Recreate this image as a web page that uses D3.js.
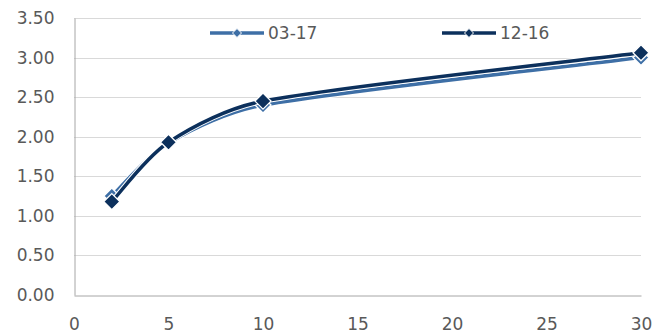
<!DOCTYPE html>
<html>
<head>
<meta charset="utf-8">
<script src="https://cdn.jsdelivr.net/npm/d3@7"></script>
<style>
	body { margin: 0; background: #fff; }
	text { font-family: "Century Gothic", "DejaVu Sans", sans-serif; fill: #595959; }
</style>
</head>
<body>
<script>
// chart values
var xValues = [2, 5, 10, 30];
var series03_17 = [1.25, 1.92, 2.40, 3.00];
var series12_16 = [1.18, 1.93, 2.45, 3.06];
var seriesNames = ['03-17', '12-16'];
var seriesColors = ['#3E6FA6', '#0C305C'];
var xTicks = [0, 5, 10, 15, 20, 25, 30];
var yTicks = [0, 0.5, 1, 1.5, 2, 2.5, 3, 3.5];

var width = 668,
	height = 333,
	margin = { top: 18, right: 27, bottom: 38, left: 74 };

var svg = d3.select('body').append('svg')
	.attr('width', width)
	.attr('height', height);

var x = d3.scaleLinear()
	.domain([0, 30])
	.range([margin.left, width - margin.right]);

var y = d3.scaleLinear()
	.domain([0, 3.5])
	.range([height - margin.bottom, margin.top]);

// gridlines
svg.append('g')
	.selectAll('line')
	.data(yTicks.slice(1))
	.enter().append('line')
	.attr('x1', x(0))
	.attr('x2', x(30))
	.attr('y1', function (d) { return Math.round(y(d)) + 0.5; })
	.attr('y2', function (d) { return Math.round(y(d)) + 0.5; })
	.attr('stroke', '#d9d9d9')
	.attr('stroke-width', 1);

// axes
var yAxis = svg.append('g')
	.attr('transform', 'translate(' + (x(0) + 0.5) + ',0)')
	.call(d3.axisLeft(y).tickValues(yTicks).tickSize(0).tickPadding(20).tickFormat(d3.format('.2f')));
yAxis.select('.domain').attr('stroke', '#a6a6a6');

var xAxis = svg.append('g')
	.attr('transform', 'translate(0,' + (Math.round(y(0)) + 0.5) + ')')
	.call(d3.axisBottom(x).tickValues(xTicks).tickSize(0).tickPadding(22));
xAxis.select('.domain').attr('stroke', '#a6a6a6');

svg.selectAll('.tick text')
	.style('font-size', '17px')
	.attr('fill', '#595959');

// spreadsheet-style smoothing: bezier arms of 1/6 the neighbour chord,
// kept short on segments next to a much longer one
function smoothPath(pts) {
	var p = pts.map(function (d) { return [x(d[0]), y(d[1])]; });
	var path = d3.path();
	var dist = function (a, b) { return Math.hypot(b[0] - a[0], b[1] - a[1]); };
	path.moveTo(p[0][0], p[0][1]);
	for (var i = 0; i < p.length - 1; i++) {
		var p0 = p[Math.max(i - 1, 0)], p1 = p[i], p2 = p[i + 1], p3 = p[Math.min(i + 2, p.length - 1)];
		var maxArm = dist(p1, p2) / 3;
		var f1 = 1 / 6, f2 = 1 / 6;
		var d02 = dist(p0, p2), d13 = dist(p1, p3);
		if (d02 * f1 > maxArm) f1 = maxArm / d02;
		if (d13 * f2 > maxArm) f2 = maxArm / d13;
		path.bezierCurveTo(
			p1[0] + (p2[0] - p0[0]) * f1, p1[1] + (p2[1] - p0[1]) * f1,
			p2[0] - (p3[0] - p1[0]) * f2, p2[1] - (p3[1] - p1[1]) * f2,
			p2[0], p2[1]);
	}
	return path.toString();
}

var allSeries = [series03_17, series12_16].map(function (vals, i) {
	return {
		name: seriesNames[i],
		color: seriesColors[i],
		points: xValues.map(function (xv, j) { return [xv, vals[j]]; })
	};
});

var diamond = function (cx, cy, r) {
	return 'M' + cx + ',' + (cy - r) + 'L' + (cx + r) + ',' + cy + 'L' + cx + ',' + (cy + r) + 'L' + (cx - r) + ',' + cy + 'Z';
};

allSeries.forEach(function (s) {
	svg.append('path')
		.attr('d', smoothPath(s.points))
		.attr('fill', 'none')
		.attr('stroke', '#fff')
		.attr('stroke-width', 5.5);
	svg.append('path')
		.attr('d', smoothPath(s.points))
		.attr('fill', 'none')
		.attr('stroke', s.color)
		.attr('stroke-width', 3.5);
	svg.selectAll(null)
		.data(s.points)
		.enter().append('path')
		.attr('d', function (d) { return diamond(x(d[0]), y(d[1]), 8); })
		.attr('fill', s.color)
		.attr('stroke', '#fff')
		.attr('stroke-width', 1.3);
});

// legend
var legendX = [210, 442];
var legend = svg.append('g');
legend.append('rect')
	.attr('x', 200).attr('y', 20)
	.attr('width', 390).attr('height', 26)
	.attr('fill', '#fff');
allSeries.forEach(function (s, i) {
	var lx = legendX[i], ly = 33;
	legend.append('line')
		.attr('x1', lx).attr('x2', lx + 54)
		.attr('y1', ly).attr('y2', ly)
		.attr('stroke', s.color)
		.attr('stroke-width', 3.5);
	legend.append('path')
		.attr('d', diamond(lx + 27, ly, 4.5))
		.attr('fill', s.color)
		.attr('stroke', '#fff')
		.attr('stroke-width', 1);
	legend.append('text')
		.attr('x', lx + 58)
		.attr('y', ly + 6)
		.style('font-size', '17px')
		.text(s.name);
});
</script>
</body>
</html>
